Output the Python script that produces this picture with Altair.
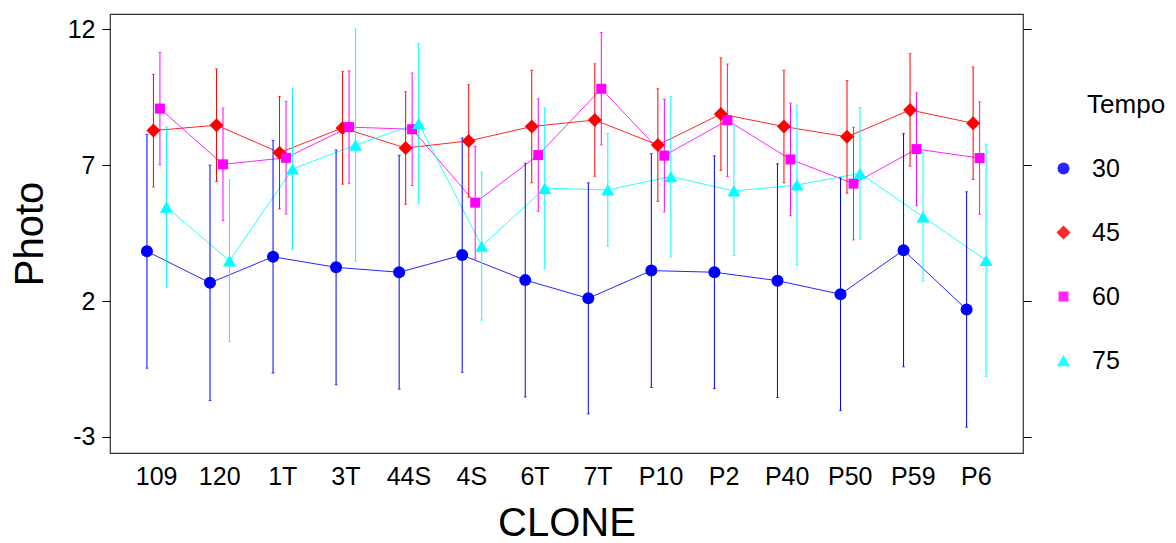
import altair as alt
import pandas as pd

clones = ["109", "120", "1T", "3T", "44S", "4S", "6T", "7T", "P10", "P2", "P40", "P50", "P59", "P6"]
tempos = ["30", "45", "60", "75"]

t30 = [3.83, 2.67, 3.63, 3.24, 3.06, 3.69, 2.77, 2.10, 3.12, 3.06, 2.75, 2.25, 3.87, 1.69]
e30 = [4.30, 4.33, 4.28, 4.32, 4.30, 4.31, 4.30, 4.25, 4.30, 4.28, 4.30, 4.28, 4.29, 4.33]
t45 = [8.27, 8.47, 7.46, 8.37, 7.63, 7.89, 8.42, 8.66, 7.74, 8.88, 8.42, 8.04, 9.03, 8.54]
e45 = [2.07, 2.07, 2.07, 2.07, 2.07, 2.07, 2.07, 2.07, 2.07, 2.07, 2.07, 2.07, 2.07, 2.07]
t60 = [9.08, 7.03, 7.27, 8.40, 8.32, 5.62, 7.37, 9.81, 7.35, 8.65, 7.21, 6.32, 7.59, 7.26]
e60 = [2.07, 2.07, 2.07, 2.07, 2.07, 2.07, 2.07, 2.07, 2.07, 2.07, 2.07, 2.07, 2.07, 2.07]
t75 = [5.46, 3.48, 6.86, 7.74, 8.54, 4.02, 6.15, 6.09, 6.58, 6.05, 6.27, 6.70, 5.10, 3.50]
e75 = [2.94, 2.97, 2.95, 4.27, 2.93, 2.72, 2.95, 2.07, 2.95, 2.38, 2.93, 2.42, 2.37, 4.27]

colors = ["#0000FF", "#FF0000", "#FF00FF", "#00FFFF"]
shapes = ["circle", "diamond", "square", "triangle-up"]
sizes = [144, 196, 100, 170]

rows = []
for t, means, errs in zip(tempos, [t30, t45, t60, t75], [e30, e45, e60, e75]):
    for c, m, e in zip(clones, means, errs):
        rows.append({"CLONE": c, "Tempo": t, "Photo": m, "lo": m - e, "hi": m + e})
df = pd.DataFrame(rows)

FONT = "Liberation Sans"
ydom = [-3.59, 12.56]
yticks = [-3, 2, 7, 12]

x = alt.X("CLONE:N", sort=clones,
          scale=alt.Scale(paddingInner=0, paddingOuter=0.24),
          axis=alt.Axis(title="CLONE", labelAngle=0, ticks=False, domain=False,
                        labelFontSize=25, labelFont=FONT, labelColor="black",
                        labelPadding=11, titleFontSize=40, titleFont=FONT,
                        titleFontWeight="normal", titleColor="black", titlePadding=14))
xoff = alt.XOffset("Tempo:N", sort=tempos,
                   scale=alt.Scale(type="point", padding=0, range=[21.8, 41.3]))
cscale = alt.Scale(domain=tempos, range=colors)
color = alt.Color("Tempo:N", sort=tempos, scale=cscale,
                  legend=alt.Legend(title="\u200b" + "\u00a0" * 5 + "Tempo", orient="none",
                                    legendX=941, legendY=78))
shape = alt.Shape("Tempo:N", sort=tempos, scale=alt.Scale(domain=tempos, range=shapes))
yscale = alt.Scale(domain=ydom, nice=False, zero=False)

base = alt.Chart(df)

lines = base.mark_line(strokeWidth=1, opacity=0.85).encode(
    x=x, xOffset=xoff,
    y=alt.Y("Photo:Q", scale=yscale, axis=None),
    color=color,
    detail="Tempo:N",
)

rules = base.mark_rule(strokeWidth=1).encode(
    x=x, xOffset=xoff,
    y=alt.Y("lo:Q", scale=yscale, axis=None),
    y2="hi:Q",
    color=color,
)

caps_lo = base.mark_tick(size=3, thickness=1).encode(
    x=x, xOffset=xoff,
    y=alt.Y("lo:Q", scale=yscale,
            axis=alt.Axis(orient="right", values=yticks, labels=False, title=None,
                          domain=False, tickSize=8, tickColor="black", grid=False)),
    color=color,
)
caps_hi = base.mark_tick(size=3, thickness=1).encode(
    x=x, xOffset=xoff,
    y=alt.Y("hi:Q", scale=yscale, axis=None),
    color=color,
)

points = base.mark_point(filled=True, opacity=1, strokeWidth=0).transform_calculate(
    TempoSize="datum.Tempo"
).encode(
    x=x, xOffset=xoff,
    y=alt.Y("Photo:Q", scale=yscale,
            axis=alt.Axis(title="Photo", values=yticks, domain=False, tickSize=8,
                          tickColor="black", grid=False, labelFontSize=25, labelFont=FONT,
                          labelColor="black", labelPadding=7, titleFontSize=40,
                          titleFont=FONT, titleFontWeight="normal", titleColor="black",
                          titlePadding=17, labelExpr="datum.value + ''")),
    color=color,
    shape=shape,
    size=alt.Size("TempoSize:N", sort=tempos,
                  scale=alt.Scale(type="ordinal", domain=tempos, range=sizes), legend=None),
)

chart = alt.layer(lines, rules, caps_lo, caps_hi, points).resolve_scale(
    y="shared"
).resolve_axis(y="independent").properties(
    width=913, height=439,
    padding={"left": 110, "top": 14, "right": 153, "bottom": 90},
    autosize="none",
    background="white",
).configure_view(
    stroke="#333333", strokeWidth=1.2
).configure_legend(
    labelFontSize=25, labelFont=FONT, labelColor="black",
    titleFontSize=26, titleFont=FONT, titleFontWeight="normal", titleColor="black",
    symbolSize=300, symbolStrokeWidth=0, rowPadding=38, labelOffset=16,
    titlePadding=38, padding=0
)

chart.save("out.html", embed_options={"renderer": "svg", "actions": False})
